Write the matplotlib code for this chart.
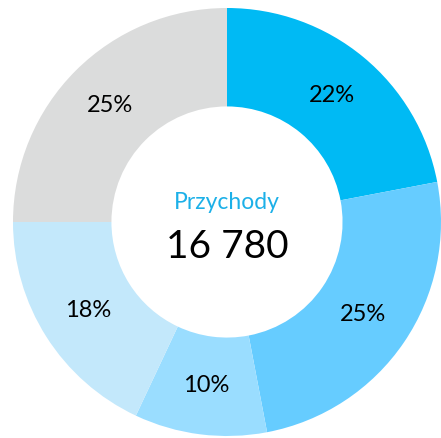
import matplotlib
matplotlib.use('Agg')
from matplotlib import pyplot as plt

# segment shares, clockwise from 12 o'clock
shares = [22, 25, 10, 18, 25]
colors = ['#00BAF4', '#66CCFF', '#9ADDFF', '#C3E8FB', '#DBDCDC']
title = 'Przychody'
total = '16 780'

plt.rcParams['font.family'] = ['Lato', 'DejaVu Sans']

fig = plt.figure(figsize=(4.41, 4.38), dpi=100)
ax = fig.add_axes([0, 0, 1, 1])

ax.pie(shares, colors=colors, startangle=90, counterclock=False,
       radius=1.0, wedgeprops=dict(width=0.46, edgecolor='none', linewidth=0),
       autopct=lambda p: f'{p:.0f}%', pctdistance=0.77,
       textprops=dict(fontsize=17, color='black'))

ax.text(0, 0.09, title, ha='center', va='center', fontsize=16.5, color='#1CB0E8')
ax.text(0, -0.115, total, ha='center', va='center', fontsize=28, color='black')

ax.set_xlim(-227 / 214, (441 - 227) / 214)
ax.set_ylim(-(438 - 222) / 214, 222 / 214)
ax.set_aspect('auto')
ax.axis('off')

fig.savefig('out.png', dpi=100)
plt.close(fig)
